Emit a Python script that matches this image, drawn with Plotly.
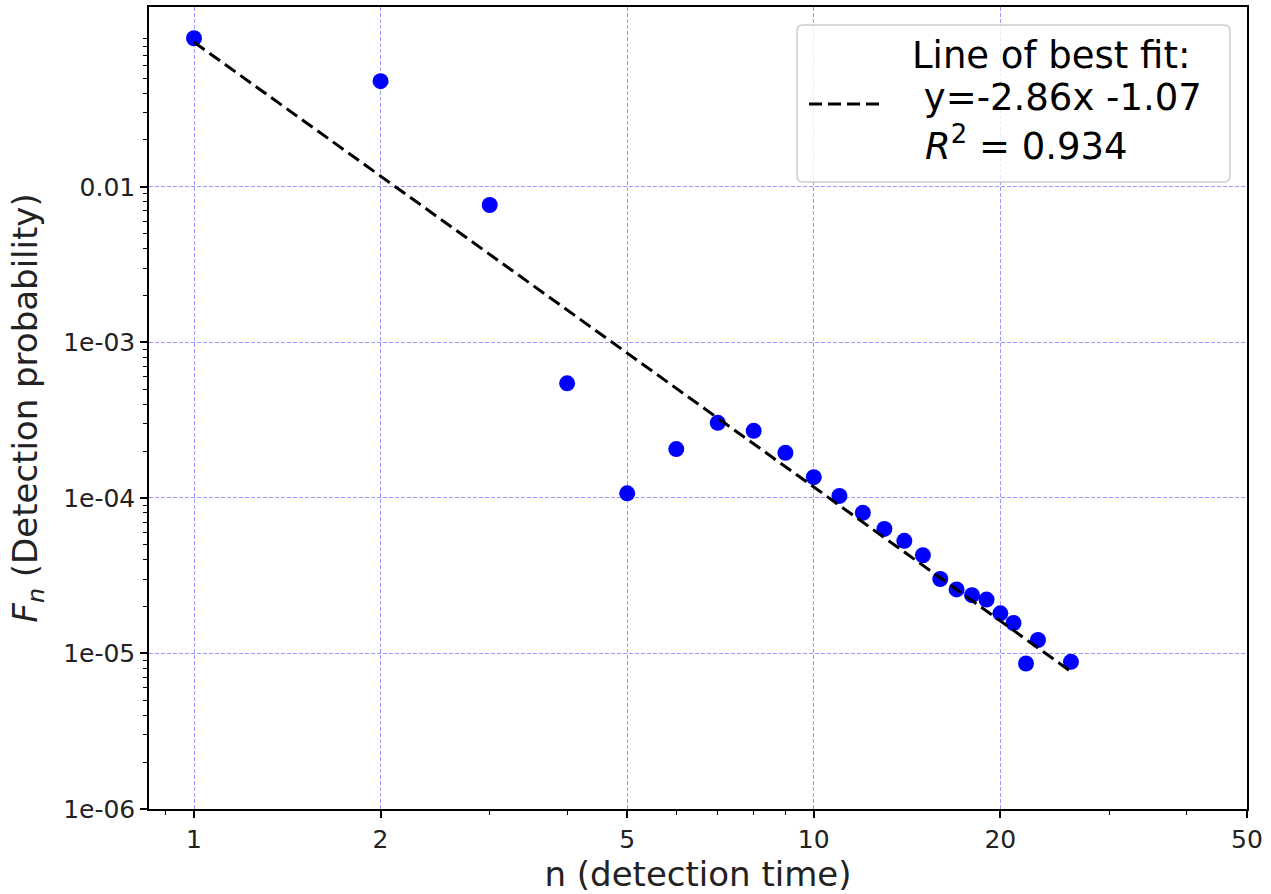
import plotly.graph_objects as go

# ---------------- data ----------------
n_values = [1, 2, 3, 4, 5, 6, 7, 8, 9, 10, 11, 12, 13, 14, 15, 16, 17, 18, 19, 20, 21, 22, 23, 26]
F_values = [0.0902, 0.0478, 7.64e-3, 5.45e-4, 1.07e-4, 2.06e-4, 3.04e-4, 2.70e-4, 1.95e-4,
            1.36e-4, 1.03e-4, 8.02e-5, 6.32e-5, 5.30e-5, 4.28e-5, 3.01e-5, 2.58e-5, 2.37e-5,
            2.22e-5, 1.81e-5, 1.57e-5, 8.62e-6, 1.22e-5, 8.83e-6]
fit_slope = -2.86
fit_intercept = -1.07
fit_r2 = 0.934

x_tick_vals = [1, 2, 5, 10, 20, 50]
x_tick_text = ["1", "2", "5", "10", "20", "50"]
y_tick_vals = [1e-6, 1e-5, 1e-4, 1e-3, 1e-2]
y_tick_text = ["1e-06", "1e-05", "1e-04", "1e-03", "0.01"]
x_minor_vals = [0.9, 3, 4, 6, 7, 8, 9, 30, 40]
y_minor_vals = [k * 10.0 ** d for d in range(-6, -1) for k in range(2, 10)]

legend_lines = ["Line of best fit:",
                "\u00a0y=%.2fx %.2f" % (fit_slope, fit_intercept),
                "<i>R</i><sup>2</sup> = %.3f" % fit_r2]

# ---------------- layout geometry ----------------
W, H = 1271, 894
ML, MR, MT, MB = 149, 24, 7, 85
PW, PH = W - ML - MR, H - MT - MB


def pxx(x):
    return (x - ML) / PW


def pxy(y):
    return (H - MB - y) / PH


FONT = "DejaVu Sans"

fit_x = [min(n_values), max(n_values)]
fit_y = [10 ** fit_intercept * x ** fit_slope for x in fit_x]

fig = go.Figure()
fig.add_trace(go.Scatter(
    x=n_values, y=F_values, mode="markers",
    marker=dict(color="#0000ff", size=16, line=dict(width=0)),
    showlegend=False, name="data"))
fig.add_trace(go.Scatter(
    x=fit_x, y=fit_y, mode="lines",
    line=dict(color="black", width=3, dash="13px,6px"),
    showlegend=False, name="Line of best fit"))

grid = "rgba(0,0,255,0.4)"
axis_common = dict(
    type="log", showline=True, linecolor="black", linewidth=1.5, mirror=True,
    ticks="outside", ticklen=7, tickwidth=1.5, tickcolor="black",
    showgrid=True, gridcolor=grid, gridwidth=1, griddash="4px,2px",
    zeroline=False, tickmode="array",
    tickfont=dict(family=FONT, size=25, color="#222222"),
)

fig.update_xaxes(
    **axis_common,
    range=[-0.0726, 1.699],
    tickvals=x_tick_vals, ticktext=x_tick_text,
    minor=dict(tickmode="array", tickvals=x_minor_vals, ticks="outside",
               ticklen=4, tickwidth=1.2, tickcolor="black", showgrid=False),
    title=dict(text="n (detection time)", font=dict(family=FONT, size=34, color="#222222"),
               standoff=14),
    automargin=False,
)
fig.update_yaxes(
    **axis_common,
    range=[-6, -0.844],
    tickvals=y_tick_vals, ticktext=y_tick_text,
    minor=dict(tickmode="array", tickvals=y_minor_vals, ticks="outside",
               ticklen=4, tickwidth=1.2, tickcolor="black", showgrid=False),
    title=dict(text="<i>F</i><sub><i>n</i></sub> (Detection probability)",
               font=dict(family=FONT, size=34, color="#222222"), standoff=15),
    automargin=False,
)

# legend box (rounded, semi-transparent like matplotlib)
x0, x1, y0, y1 = 797, 1230, 25, 182
r = 6
path = (
    f"M {pxx(x0 + r)},{pxy(y0)} L {pxx(x1 - r)},{pxy(y0)} "
    f"Q {pxx(x1)},{pxy(y0)} {pxx(x1)},{pxy(y0 + r)} L {pxx(x1)},{pxy(y1 - r)} "
    f"Q {pxx(x1)},{pxy(y1)} {pxx(x1 - r)},{pxy(y1)} L {pxx(x0 + r)},{pxy(y1)} "
    f"Q {pxx(x0)},{pxy(y1)} {pxx(x0)},{pxy(y1 - r)} L {pxx(x0)},{pxy(y0 + r)} "
    f"Q {pxx(x0)},{pxy(y0)} {pxx(x0 + r)},{pxy(y0)} Z"
)
fig.add_shape(type="path", path=path, xref="paper", yref="paper", layer="above",
              fillcolor="rgba(255,255,255,0.8)", line=dict(color="#cccccc", width=1.5))
fig.add_shape(type="line", xref="paper", yref="paper", layer="above",
              x0=pxx(809), x1=pxx(882), y0=pxy(104), y1=pxy(104),
              line=dict(color="black", width=3, dash="13px,6px"))

legend_y = [55, 97, 143]
legend_x = [911, 911, 924]
for txt, lx, ly in zip(legend_lines, legend_x, legend_y):
    fig.add_annotation(text=txt, xref="paper", yref="paper", x=pxx(lx), y=pxy(ly),
                       xanchor="left", yanchor="middle", showarrow=False, borderpad=0,
                       font=dict(family=FONT, size=37, color="black"))

fig.update_layout(
    width=W, height=H,
    margin=dict(l=ML, r=MR, t=MT, b=MB, pad=0),
    paper_bgcolor="white", plot_bgcolor="white",
    font=dict(family=FONT),
    showlegend=False,
)

fig.write_html("out.html")
